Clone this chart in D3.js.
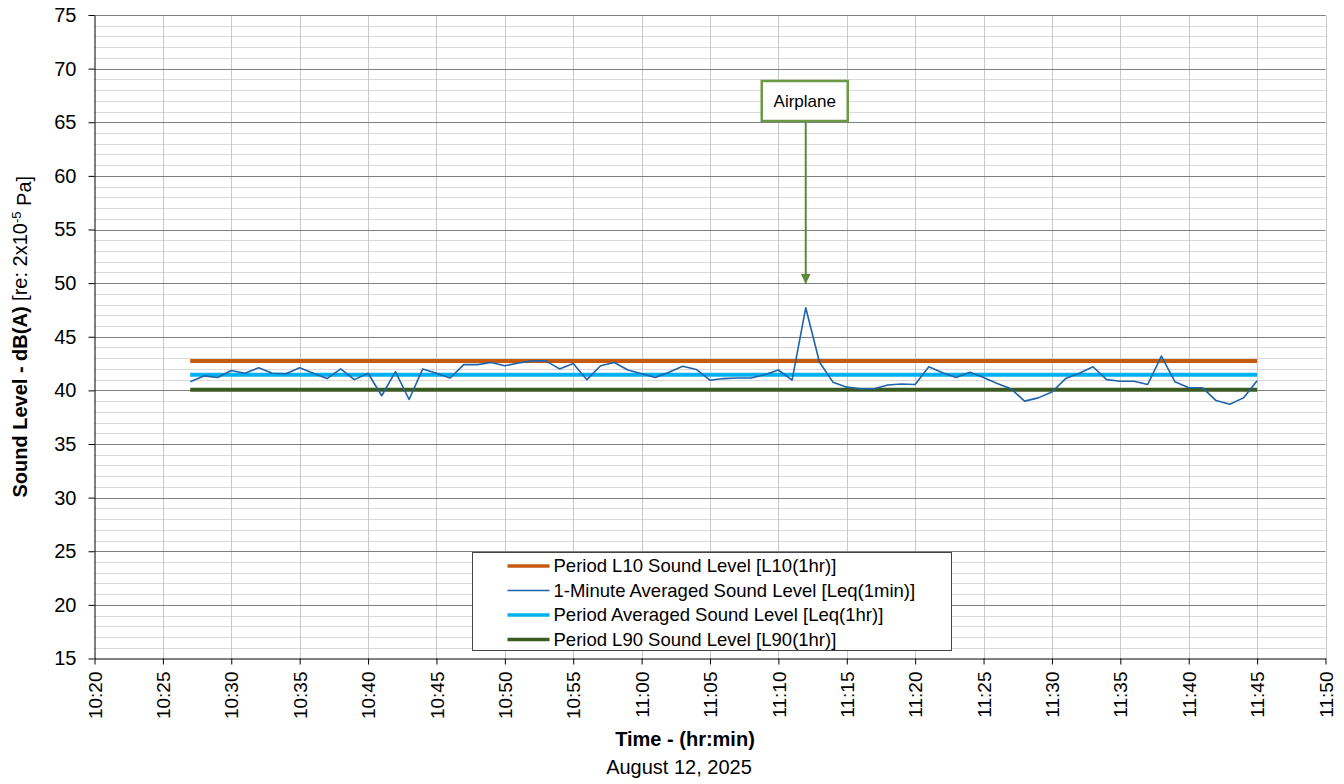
<!DOCTYPE html>
<html>
<head>
<meta charset="utf-8">
<script src="https://cdn.jsdelivr.net/npm/d3@7"></script>
<style>
  html, body { margin: 0; padding: 0; background: #fff; }
  svg text { font-family: "Liberation Sans", Arial, sans-serif; fill: #000; }
</style>
</head>
<body>
<div id="chart"></div>
<script>
// 1-minute Leq readings, 10:27 .. 11:45
const START_TIME = "10:27";
const leq1min = [
  40.8, 41.35, 41.2, 41.85, 41.6, 42.1, 41.6, 41.55, 42.1, 41.6,
  41.1, 42.0, 41.0, 41.6, 39.5, 41.75, 39.15, 42.0, 41.6, 41.15,
  42.4, 42.4, 42.6, 42.3, 42.55, 42.75, 42.75, 42.0, 42.5, 41.0,
  42.3, 42.6, 41.9, 41.55, 41.2, 41.7, 42.25, 41.95, 40.95, 41.1,
  41.15, 41.15, 41.45, 41.9, 40.95, 47.7, 42.65, 40.75, 40.3, 40.15,
  40.15, 40.5, 40.6, 40.55, 42.2, 41.65, 41.2, 41.7, 41.2, 40.65,
  40.15, 39.0, 39.3, 39.85, 41.1, 41.6, 42.2, 41.0, 40.85, 40.85,
  40.55, 43.2, 40.8, 40.25, 40.25, 39.05, 38.7, 39.3, 40.9
];
const periodL10 = 42.75;
const periodLeq = 41.45;
const periodL90 = 40.05;

const legendLabels = [
  "Period L10 Sound Level [L10(1hr)]",
  "1-Minute Averaged Sound Level [Leq(1min)]",
  "Period Averaged Sound Level [Leq(1hr)]",
  "Period L90 Sound Level [L90(1hr)]"
];
const annotation = { label: "Airplane", time: "11:12" };

const W = 1344, H = 784;
const m = { top: 15, right: 18.5, bottom: 125.5, left: 94.5 };

const parse = d3.timeParse("%H:%M");
const t0 = parse(START_TIME);
const series = leq1min.map((v, i) => ({ t: d3.timeMinute.offset(t0, i), v }));
const tEnd = series[series.length - 1].t;

const x = d3.scaleTime()
  .domain([parse("10:20"), parse("11:50")])
  .range([m.left, W - m.right]);
const y = d3.scaleLinear()
  .domain([15, 75])
  .range([H - m.bottom, m.top]);

const svg = d3.select("#chart").append("svg")
  .attr("width", W).attr("height", H);

// gridlines
const minorVals = d3.range(16, 75).filter(v => v % 5 !== 0);
svg.append("g").selectAll("line").data(minorVals).join("line")
  .attr("x1", m.left).attr("x2", W - m.right)
  .attr("y1", d => Math.round(y(d)) + 0.5).attr("y2", d => Math.round(y(d)) + 0.5)
  .attr("stroke", "#d9d9d9").attr("stroke-width", 1);

const xTicks = d3.timeMinute.every(5).range(parse("10:20"), d3.timeMinute.offset(parse("11:50"), 1));
svg.append("g").selectAll("line").data(xTicks.slice(1)).join("line")
  .attr("x1", d => Math.round(x(d)) + 0.5).attr("x2", d => Math.round(x(d)) + 0.5)
  .attr("y1", m.top).attr("y2", H - m.bottom)
  .attr("stroke", "#c8c8c8").attr("stroke-width", 1);

const majorVals = d3.range(20, 80, 5);
svg.append("g").selectAll("line").data(majorVals).join("line")
  .attr("x1", m.left).attr("x2", W - m.right)
  .attr("y1", d => Math.round(y(d)) + 0.5).attr("y2", d => Math.round(y(d)) + 0.5)
  .attr("stroke", "#7f7f7f").attr("stroke-width", 1);

// axes
const yAxis = svg.append("g")
  .attr("transform", `translate(${m.left},0)`)
  .call(d3.axisLeft(y).tickValues(d3.range(15, 80, 5)).tickSize(6).tickPadding(12).tickSizeOuter(0));
yAxis.selectAll("text").style("font-size", "20px");
yAxis.selectAll("line,path").attr("stroke", "#000");

const xAxis = svg.append("g")
  .attr("transform", `translate(0,${H - m.bottom})`)
  .call(d3.axisBottom(x).tickValues(xTicks).tickFormat(d3.timeFormat("%H:%M")).tickSize(6).tickSizeOuter(0));
xAxis.selectAll("line,path").attr("stroke", "#000");
xAxis.selectAll("text")
  .style("font-size", "19px")
  .attr("transform", "rotate(-90)")
  .attr("text-anchor", "end")
  .attr("x", -13).attr("y", 0).attr("dy", "0.35em");

// series
const hline = (val, color, w) => svg.append("line")
  .attr("x1", x(t0)).attr("x2", x(tEnd))
  .attr("y1", y(val)).attr("y2", y(val))
  .attr("stroke", color).attr("stroke-width", w);

hline(periodL10, "#c55a11", 4);
hline(periodLeq, "#00b0f0", 4);
hline(periodL90, "#3b5a22", 4);

svg.append("path").datum(series)
  .attr("fill", "none")
  .attr("stroke", "#1f63a8")
  .attr("stroke-width", 1.6)
  .attr("stroke-linejoin", "round")
  .attr("d", d3.line().x(d => x(d.t)).y(d => y(d.v)));

// annotation
const ax = x(parse(annotation.time));
const peak = series.find(d => +d.t === +parse(annotation.time)).v;
const defs = svg.append("defs");
defs.append("marker").attr("id", "arrow")
  .attr("viewBox", "0 0 10 10").attr("refX", 10).attr("refY", 5)
  .attr("markerWidth", 5).attr("markerHeight", 6).attr("orient", "auto")
  .append("path").attr("d", "M0,0 L10,5 L0,10 Z").attr("fill", "#5a8a3a");

const boxW = 86, boxH = 40, boxTop = 81;
svg.append("line")
  .attr("x1", ax).attr("y1", boxTop + boxH)
  .attr("x2", ax).attr("y2", y(peak) - 24)
  .attr("stroke", "#5a8a3a").attr("stroke-width", 2)
  .attr("marker-end", "url(#arrow)");
svg.append("rect")
  .attr("x", ax - 44).attr("y", boxTop).attr("width", boxW).attr("height", boxH)
  .attr("fill", "#fff").attr("stroke", "#6a9a45").attr("stroke-width", 2.5);
svg.append("text")
  .attr("x", ax - 1).attr("y", boxTop + boxH / 2).attr("dy", "0.35em")
  .attr("text-anchor", "middle").style("font-size", "17px")
  .text(annotation.label);

// legend
const legX = 472.5, legY = 552.5, legW = 479, legH = 98;
const leg = svg.append("g");
leg.append("rect")
  .attr("x", legX).attr("y", legY).attr("width", legW).attr("height", legH)
  .attr("fill", "#fff").attr("stroke", "#444").attr("stroke-width", 1);
const legColors = ["#c55a11", "#1f63a8", "#00b0f0", "#3b5a22"];
const legWidths = [3.5, 1.6, 3.5, 3.5];
legendLabels.forEach((lab, i) => {
  const ly = legY + 13.5 + i * 24.5;
  leg.append("line")
    .attr("x1", legX + 35).attr("x2", legX + 77)
    .attr("y1", ly).attr("y2", ly)
    .attr("stroke", legColors[i]).attr("stroke-width", legWidths[i]);
  leg.append("text")
    .attr("x", legX + 81).attr("y", ly).attr("dy", "0.35em")
    .style("font-size", "18.5px")
    .text(lab);
});

// axis titles
const yt = svg.append("text")
  .attr("transform", `translate(27,${(m.top + H - m.bottom) / 2}) rotate(-90)`)
  .attr("text-anchor", "middle")
  .style("font-size", "20px");
yt.append("tspan").style("font-weight", "bold").text("Sound Level - dB(A) ");
yt.append("tspan").text("[re: 2x10");
yt.append("tspan").attr("dy", "-0.5em").style("font-size", "13px").text("-5");
yt.append("tspan").attr("dy", "0.5em").text(" Pa]");

svg.append("text")
  .attr("x", 685).attr("y", 746)
  .attr("text-anchor", "middle")
  .style("font-size", "20px").style("font-weight", "bold")
  .text("Time - (hr:min)");
svg.append("text")
  .attr("x", 679).attr("y", 774)
  .attr("text-anchor", "middle")
  .style("font-size", "20px")
  .text("August 12, 2025");
</script>
</body>
</html>
